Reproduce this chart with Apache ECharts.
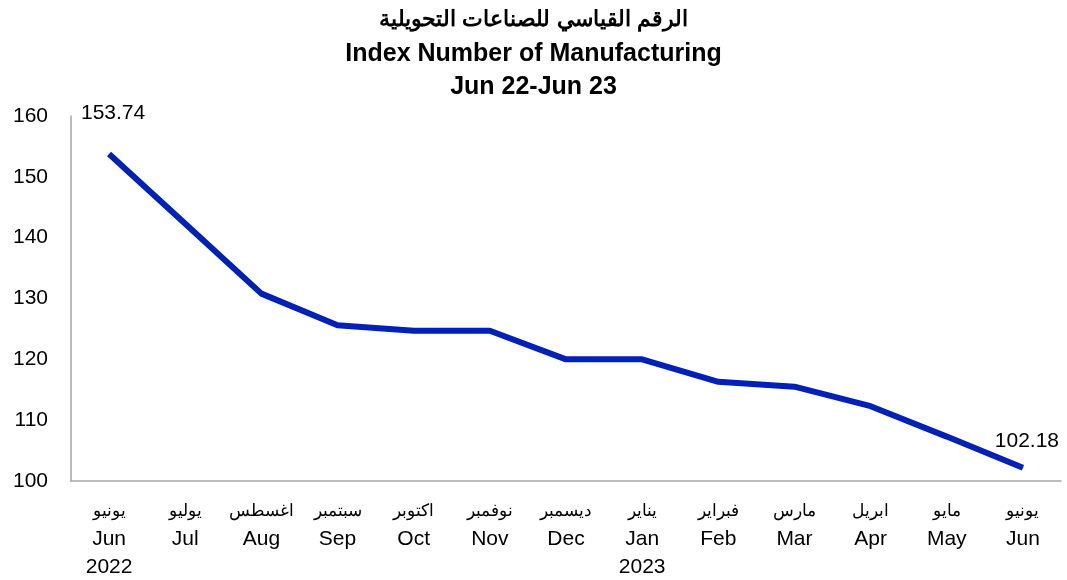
<!DOCTYPE html>
<html>
<head>
<meta charset="utf-8">
<script src="https://cdn.jsdelivr.net/npm/echarts@6/dist/echarts.min.js"></script>
<style>
html,body{margin:0;padding:0;background:#fff;}
#chart{width:1067px;height:580px;}
</style>
</head>
<body>
<div id="chart"></div>
<script>
var categoriesAr = ['يونيو','يوليو','اغسطس','سبتمبر','اكتوبر','نوفمبر','ديسمبر','يناير','فبراير','مارس','ابريل','مايو','يونيو'];
var categoriesEn = ['Jun','Jul','Aug','Sep','Oct','Nov','Dec','Jan','Feb','Mar','Apr','May','Jun'];
var categoriesYear = ['2022','','','','','','','2023','','','','',''];
var indexValues = [153.74, 142.3, 130.8, 125.6, 124.7, 124.7, 120.0, 120.0, 116.3, 115.5, 112.3, 107.3, 102.18];
var yTicks = [100, 110, 120, 130, 140, 150, 160];

var font = '"Liberation Sans", Arial, sans-serif';
var categories = categoriesEn.map(function(c, i){ return i; });

var seriesData = indexValues.map(function(v, i){
  var item = {value: v};
  if (i === 0) {
    item.label = {show: true, position: 'top', offset: [4, -25]};
  } else if (i === indexValues.length - 1) {
    item.label = {show: true, position: 'top', offset: [4, -11]};
  }
  return item;
});

var chart = echarts.init(document.getElementById('chart'), null, {renderer: 'canvas'});
chart.setOption({
  backgroundColor: '#fff',
  animation: false,
  title: [
    {text: 'الرقم القياسي للصناعات التحويلية', left: 'center', top: 4, textStyle: {fontFamily: font, fontSize: 22, fontWeight: 'bold', color: '#000'}},
    {text: 'Index Number of Manufacturing', left: 'center', top: 37, textStyle: {fontFamily: font, fontSize: 25, fontWeight: 'bold', color: '#000'}},
    {text: 'Jun 22-Jun 23', left: 'center', top: 70, textStyle: {fontFamily: font, fontSize: 25, fontWeight: 'bold', color: '#000'}}
  ],
  grid: {left: 71, right: 6, top: 116, bottom: 99, containLabel: false},
  xAxis: {
    type: 'category',
    data: categories,
    boundaryGap: true,
    axisLine: {show: true, lineStyle: {color: '#a6a6a6', width: 1.5}},
    axisTick: {show: false},
    splitLine: {show: false},
    axisLabel: {
      interval: 0,
      margin: 16,
      formatter: function(v, i){
        var s = '{ar|' + categoriesAr[i] + '}\n{en|' + categoriesEn[i] + '}';
        if (categoriesYear[i]) s += '\n{en|' + categoriesYear[i] + '}';
        return s;
      },
      rich: {
        ar: {fontFamily: font, fontSize: 17, color: '#000', lineHeight: 28},
        en: {fontFamily: font, fontSize: 21, color: '#000', lineHeight: 28}
      }
    }
  },
  yAxis: {
    type: 'value',
    min: 100,
    max: 160,
    interval: 10,
    axisLine: {show: true, lineStyle: {color: '#a6a6a6', width: 1.5}},
    axisTick: {show: false},
    splitLine: {show: false},
    axisLabel: {
      margin: 23,
      fontFamily: font, fontSize: 21, color: '#000',
      formatter: function(v){ return yTicks.indexOf(v) >= 0 ? String(v) : ''; }
    }
  },
  series: [{
    type: 'line',
    data: seriesData,
    symbol: 'circle',
    symbolSize: 1,
    showSymbol: true,
    itemStyle: {color: '#0021b8'},
    lineStyle: {color: '#0021b8', width: 6},
    label: {show: false, fontFamily: font, fontSize: 21, color: '#000', formatter: function(p){ return p.value.toFixed(2); }}
  }]
});
</script>
</body>
</html>
